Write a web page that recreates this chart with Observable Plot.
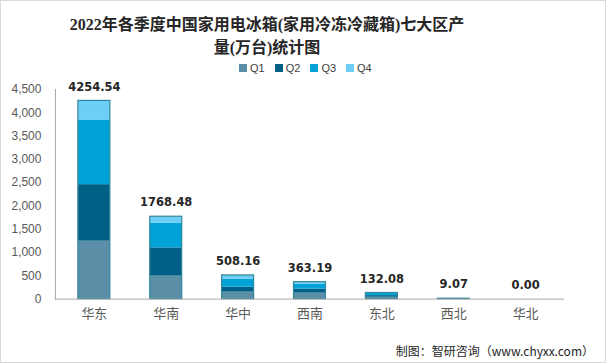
<!DOCTYPE html>
<html>
<head>
<meta charset="utf-8">
<script src="https://cdn.jsdelivr.net/npm/d3@7"></script>
<script src="https://cdn.jsdelivr.net/npm/@observablehq/plot@0.6"></script>
<style>
  html, body { margin: 0; padding: 0; background: #fff; }
  #wrap { position: relative; width: 604px; height: 361px; border: 1px solid #d9d9d9; overflow: hidden; font-family: "Noto Sans CJK SC", sans-serif; }
  #title { position: absolute; left: 36px; width: 460px; top: 12px; text-align: center; font-family: "Liberation Serif", "Noto Sans CJK SC", serif; font-weight: bold; font-size: 16px; line-height: 23px; color: #262626; }
  #legend { position: absolute; top: 61px; left: 238px; display: flex; font-family: "Liberation Sans", Arial, sans-serif; font-size: 11px; color: #404040; }
  #legend span.item { display: flex; align-items: center; width: 35.7px; }
  #legend span.sw { display: inline-block; width: 8px; height: 8px; margin-right: 3px; }
  #chart { position: absolute; left: -1px; top: 75px; }
  #caption { position: absolute; right: 11px; top: 341px; font-size: 12px; color: #262626; font-family: "Noto Sans CJK SC", sans-serif; }
</style>
</head>
<body>
<div id="wrap">
  <div id="title">2022年各季度中国家用电冰箱(家用冷冻冷藏箱)七大区产<br>量(万台)统计图</div>
  <div id="legend"></div>
  <div id="chart"></div>
  <div id="caption">制图：智研咨询（www.chyxx.com）</div>
</div>
<script>
const regions = ["华东","华南","华中","西南","东北","西北","华北"];
const quarters = ["Q1","Q2","Q3","Q4"];
const q1 = [1243, 493, 150, 128, 40, 3, 0];
const q2 = [1214, 607, 107, 86, 35, 2, 0];
const q3 = [1378, 528, 171, 107, 45, 2.5, 0];
const q4 = [419.54, 140.48, 80.16, 42.19, 12.08, 1.57, 0];
const totals = [4254.54, 1768.48, 508.16, 363.19, 132.08, 9.07, 0.00];
const yTicks = [0,500,1000,1500,2000,2500,3000,3500,4000,4500];
const colors = ["#5b8fa8", "#005f84", "#00a2d8", "#6dcff6"];

const series = [q1, q2, q3, q4];
const rows = [];
regions.forEach((r, i) => quarters.forEach((q, j) => rows.push({region: r, quarter: q, value: series[j][i]})));
const totalRows = regions.map((r, i) => ({region: r, total: totals[i]}));

// legend
const lg = document.getElementById("legend");
quarters.forEach((q, j) => {
  const it = document.createElement("span"); it.className = "item";
  it.innerHTML = `<span class="sw" style="background:${colors[j]}"></span>${q}`;
  lg.appendChild(it);
});

const plot = Plot.plot({
  width: 606,
  height: 288,
  marginTop: 13,
  marginBottom: 65,
  marginLeft: 55,
  marginRight: 41,
  style: {fontFamily: "'Noto Sans CJK SC', sans-serif", fontSize: "12px", color: "#595959", background: "transparent"},
  x: {domain: regions, paddingInner: 0.56, paddingOuter: 0.28, label: null},
  y: {domain: [0, 4500], label: null},
  color: {domain: quarters, range: colors},
  marks: [
    Plot.axisY({ticks: yTicks, tickFormat: d3.format(","), tickSize: 0, tickPadding: 14, label: null, fontSize: 12, fontFamily: "'Liberation Sans', Arial, sans-serif", fill: "#595959"}),
    Plot.axisX({tickSize: 0, tickPadding: 10, label: null, fontSize: 13, fill: "#595959"}),
    Plot.frame({anchor: "left", stroke: "#a6a6a6"}),
    Plot.barY(rows, Plot.stackY({x: "region", y: "value", fill: "quarter", order: quarters})),
    Plot.barY(totalRows, {x: "region", y: "total", fill: "none", stroke: "#31869b", strokeWidth: 1.2}),
    Plot.ruleY([0], {stroke: "#a6a6a6"}),
    Plot.text(totalRows, {x: "region", y: "total", text: d => d.total.toFixed(2), dy: -14, fontWeight: "bold", fontSize: 11.5, fill: "#262626", fontFamily: "'DejaVu Sans', sans-serif"})
  ]
});
document.getElementById("chart").appendChild(plot);
</script>
</body>
</html>
